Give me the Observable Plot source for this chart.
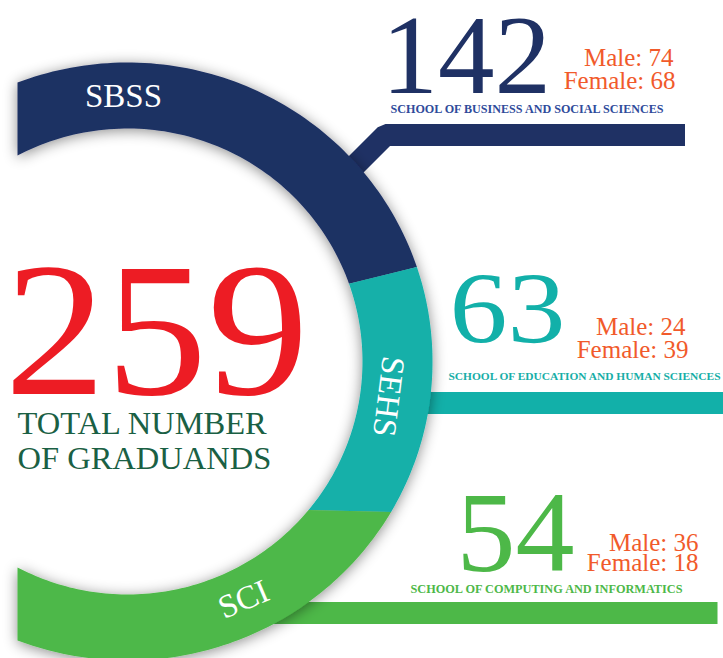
<!DOCTYPE html>
<html><head><meta charset="utf-8">
<script src="https://cdn.jsdelivr.net/npm/d3@7"></script>
<script src="https://cdn.jsdelivr.net/npm/@observablehq/plot@0.6"></script>
<style>
html,body{margin:0;padding:0;background:#fff;}
#chart svg{display:block;}
</style>
</head><body><div id="chart"></div>
<script>
// ---------- data ----------
const schools = ["SBSS", "SEHS", "SCI"];
const schoolNames = [
  "SCHOOL OF BUSINESS AND SOCIAL SCIENCES",
  "SCHOOL OF EDUCATION AND HUMAN SCIENCES",
  "SCHOOL OF COMPUTING AND INFORMATICS"
];
const totals = [142, 63, 54];
const male = [74, 24, 36];
const female = [68, 39, 18];
const grandTotal = 259;
const totalLabel = ["TOTAL NUMBER", "OF GRADUANDS"];

// ---------- style / layout ----------
const W = 723, H = 658;
const colors = ["#1f3164", "#12b0a9", "#4db848"];
const nameColors = ["#2f4b9b", "#16aea7", "#4db848"];
const orange = "#f15a2b";
const red = "#ed1c24";
const darkGreen = "#1a6044";
const serif = "Liberation Serif, Times New Roman, serif";

const ring = {cx: 127, cy: 361, rxOut: 305, ryOut: 299, rxIn: 235, ryIn: 233, clipX: 17};
const deg = Math.PI / 180;
const startOut = Math.asin((ring.clipX - ring.cx) / ring.rxOut) / deg;
const startIn = Math.asin((ring.clipX - ring.cx) / ring.rxIn) / deg;
const cum = d3.cumsum(totals);
const bounds = [0, ...cum];
// angular layout of the segment boundaries (degrees clockwise from top)
const tOut = d3.scaleLinear().domain(bounds).range([startOut, 71.6, 120.2, 180 - startOut]);
const tIn = d3.scaleLinear().domain(bounds).range([startIn, 70.5, 129.6, 180 - startIn]);

const ringPts = [];
schools.forEach((s, i) => {
  const a0 = bounds[i], a1 = bounds[i + 1];
  const n = 80;
  for (let k = 0; k <= n; k++) {
    const t = tOut(a0 + (a1 - a0) * k / n) * deg;
    ringPts.push({school: s, px: ring.cx + ring.rxOut * Math.sin(t), py: ring.cy - ring.ryOut * Math.cos(t)});
  }
  for (let k = n; k >= 0; k--) {
    const t = tIn(a0 + (a1 - a0) * k / n) * deg;
    ringPts.push({school: s, px: ring.cx + ring.rxIn * Math.sin(t), py: ring.cy - ring.ryIn * Math.cos(t)});
  }
});

// connector bars (layout)
const barPaths = [
  [[325, 194.5], [385, 134.5], [684.5, 134.5]],
  [[380, 402.5], [730, 402.5]],
  [[200, 612.5], [717, 612.5]]
];
const barPts = [];
schools.forEach((s, i) => barPaths[i].forEach(([px, py]) => barPts.push({school: s, px, py})));

// text layout per school
const lay = [
  {numX: 381, numY: 92, numSize: 113, numLen: null, mEnd: 673, mY: 65, fEnd: 675, fY: 88, nX: 390, nY: 112, nSize: 12, nLen: 273},
  {numX: 449, numY: 342, numSize: 102, numLen: 116, mEnd: 685, mY: 334, fEnd: 688, fY: 357, nX: 448, nY: 379, nSize: 11.1, nLen: 272},
  {numX: 456, numY: 570, numSize: 115, numLen: 118, mEnd: 698, mY: 550, fEnd: 698, fY: 570, nX: 410, nY: 592, nSize: 12, nLen: 272}
];
const ringLabels = [
  {x: 123, y: 96, rotate: 0},
  {x: 388, y: 396, rotate: 97},
  {x: 243, y: 599, rotate: -23}
];
const totalLay = {x: 4, y: 393, size: 190, len: 304};
const totalLabelLay = {x: 17, y: 433, step: 35, size: 32.5};

const marks = [
  Plot.line(barPts, {x: "px", y: "py", z: "school", stroke: "school", strokeWidth: 22,
    strokeLinecap: "butt", strokeLinejoin: "miter", fill: "none"}),
  Plot.line(ringPts, {x: "px", y: "py", z: "school", fill: "school", stroke: "none"}),
  Plot.text(schools, {x: (d, i) => ringLabels[i].x, y: (d, i) => ringLabels[i].y,
    rotate: (d, i) => ringLabels[i].rotate, text: d => d, fill: "white",
    fontFamily: serif, fontSize: 33, textAnchor: "middle", lineAnchor: "middle"}),
  Plot.text([grandTotal], {x: () => totalLay.x, y: () => totalLay.y, text: d => String(d), fill: red,
    fontFamily: serif, fontSize: totalLay.size, textAnchor: "start", lineAnchor: "bottom"}),
  Plot.text(totalLabel, {x: () => totalLabelLay.x, y: (d, i) => totalLabelLay.y + i * totalLabelLay.step,
    text: d => d, fill: darkGreen, fontFamily: serif, fontSize: totalLabelLay.size,
    textAnchor: "start", lineAnchor: "bottom"})
];
schools.forEach((s, i) => {
  const L = lay[i];
  marks.push(
    Plot.text([totals[i]], {x: () => L.numX, y: () => L.numY, text: d => String(d), fill: colors[i],
      fontFamily: serif, fontSize: L.numSize, textAnchor: "start", lineAnchor: "bottom"}),
    Plot.text([male[i]], {x: () => L.mEnd, y: () => L.mY, text: d => `Male: ${d}`, fill: orange,
      fontFamily: serif, fontSize: 25, textAnchor: "end", lineAnchor: "bottom"}),
    Plot.text([female[i]], {x: () => L.fEnd, y: () => L.fY, text: d => `Female: ${d}`, fill: orange,
      fontFamily: serif, fontSize: 25, textAnchor: "end", lineAnchor: "bottom"}),
    Plot.text([schoolNames[i]], {x: () => L.nX, y: () => L.nY, text: d => d, fill: nameColors[i],
      fontFamily: serif, fontSize: L.nSize, fontWeight: "bold", textAnchor: "start", lineAnchor: "bottom"})
  );
});

const svg = Plot.plot({
  width: W, height: H,
  marginTop: 0, marginRight: 0, marginBottom: 0, marginLeft: 0,
  x: {domain: [0, W], range: [0, W], axis: null},
  y: {domain: [0, H], range: [0, H], axis: null},
  color: {domain: schools, range: colors},
  style: {background: "white", overflow: "hidden"},
  marks
});

const sel = d3.select(svg);
// fit text widths to the reference lettering
const fit = new Map([[String(grandTotal), totalLay.len]]);
schools.forEach((s, i) => {
  if (lay[i].numLen) fit.set(String(totals[i]), lay[i].numLen);
  fit.set(schoolNames[i], lay[i].nLen);
});
sel.selectAll("text").each(function () {
  const len = fit.get(this.textContent);
  if (len) {
    this.setAttribute("textLength", len);
    this.setAttribute("lengthAdjust", "spacingAndGlyphs");
  }
});

// soft shadow under the ring
const defs = sel.insert("defs", ":first-child");
const f = defs.append("filter").attr("id", "ringShadow")
  .attr("x", "-20%").attr("y", "-20%").attr("width", "140%").attr("height", "140%");
f.append("feDropShadow").attr("dx", 0).attr("dy", 2).attr("stdDeviation", 7)
  .attr("flood-color", "#000").attr("flood-opacity", 0.45);
const lineGroups = svg.querySelectorAll('g[aria-label="line"]');
if (lineGroups[1]) lineGroups[1].setAttribute("filter", "url(#ringShadow)");

document.getElementById("chart").appendChild(svg);
</script>
</body></html>
